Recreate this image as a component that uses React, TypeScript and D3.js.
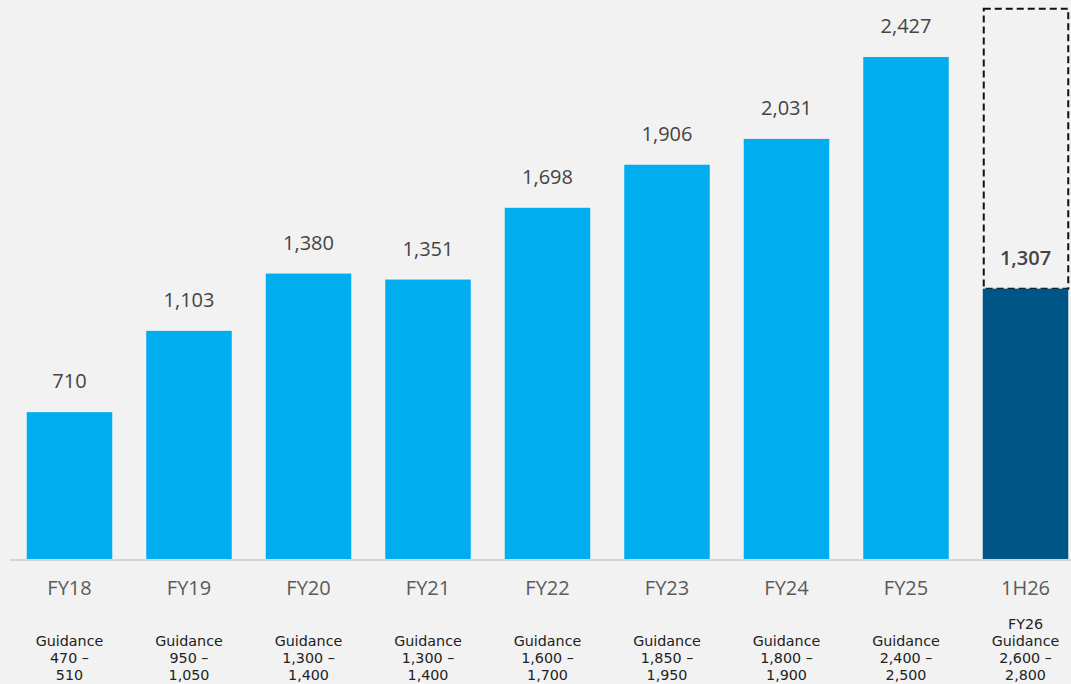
import React from "react";
import { select, scaleBand, scaleLinear } from "d3";

const categories = ["FY18", "FY19", "FY20", "FY21", "FY22", "FY23", "FY24", "FY25", "1H26"];
const values = [710, 1103, 1380, 1351, 1698, 1906, 2031, 2427, 1307];
const guidance = [
  ["Guidance", "470 –", "510"],
  ["Guidance", "950 –", "1,050"],
  ["Guidance", "1,300 –", "1,400"],
  ["Guidance", "1,300 –", "1,400"],
  ["Guidance", "1,600 –", "1,700"],
  ["Guidance", "1,850 –", "1,950"],
  ["Guidance", "1,800 –", "1,900"],
  ["Guidance", "2,400 –", "2,500"],
  ["FY26", "Guidance", "2,600 –", "2,800"],
];
// top of the dashed full-year box
const fy26Box = 2660;

const W = 1071;
const H = 684;
const baseY = 559;
const font = "'Open Sans', sans-serif";
const smallFont = "'DejaVu Sans', sans-serif";

export default function App() {
  const svgRef = React.useRef<SVGSVGElement>(null);

  React.useEffect(() => {
    const svg = select(svgRef.current);
    svg.selectAll("*").remove();

    const x = scaleBand<string>()
      .domain(categories)
      .range([9.75, 1085.25])
      .paddingInner(0.2845)
      .paddingOuter(0.14225);

    const y = scaleLinear().domain([0, 2427]).range([baseY, 57]);

    svg.append("rect").attr("width", W).attr("height", H).attr("fill", "#f2f2f2");

    const last = categories.length - 1;

    // dashed FY26 box
    svg
      .append("rect")
      .attr("x", x(categories[last])! + 1)
      .attr("y", y(fy26Box))
      .attr("width", x.bandwidth() - 1)
      .attr("height", y(values[last]) - y(fy26Box))
      .attr("fill", "none")
      .attr("stroke", "#111")
      .attr("stroke-width", 2)
      .attr("stroke-dasharray", "7,4");

    svg
      .selectAll("rect.bar")
      .data(values)
      .join("rect")
      .attr("class", "bar")
      .attr("x", (d, i) => x(categories[i])!)
      .attr("y", (d) => y(d))
      .attr("width", x.bandwidth())
      .attr("height", (d) => baseY - y(d))
      .attr("fill", (d, i) => (i === last ? "#005587" : "#00adef"));

    // baseline
    svg
      .append("line")
      .attr("x1", 10)
      .attr("x2", W)
      .attr("y1", baseY + 1)
      .attr("y2", baseY + 1)
      .attr("stroke", "#d6d6d6")
      .attr("stroke-width", 2);

    // value labels
    svg
      .selectAll("text.val")
      .data(values)
      .join("text")
      .attr("class", "val")
      .attr("x", (d, i) => x(categories[i])! + x.bandwidth() / 2)
      .attr("y", (d) => y(d) - 24)
      .attr("text-anchor", "middle")
      .attr("font-family", font)
      .attr("font-size", 20)
      .attr("font-weight", (d, i) => (i === last ? 600 : 400))
      .attr("fill", "#444")
      .text((d) => d.toLocaleString("en-US"));

    // category labels
    svg
      .selectAll("text.cat")
      .data(categories)
      .join("text")
      .attr("class", "cat")
      .attr("x", (d) => x(d)! + x.bandwidth() / 2)
      .attr("y", 595)
      .attr("text-anchor", "middle")
      .attr("font-family", font)
      .attr("font-size", 20)
      .attr("fill", "#5a5a5a")
      .text((d) => d);

    // guidance text
    guidance.forEach((lines, i) => {
      const cx = x(categories[i])! + x.bandwidth() / 2;
      const t = svg
        .append("text")
        .attr("text-anchor", "middle")
        .attr("font-family", smallFont)
        .attr("font-size", 14.3)
        .attr("fill", "#222");
      lines.forEach((l, j) => {
        t.append("tspan")
          .attr("x", cx)
          .attr("y", 680 - (lines.length - 1 - j) * 17)
          .text(l);
      });
    });
  }, []);

  return (
    <svg
      ref={svgRef}
      width={W}
      height={H}
      style={{ position: "absolute", left: 0, top: 0 }}
    />
  );
}
